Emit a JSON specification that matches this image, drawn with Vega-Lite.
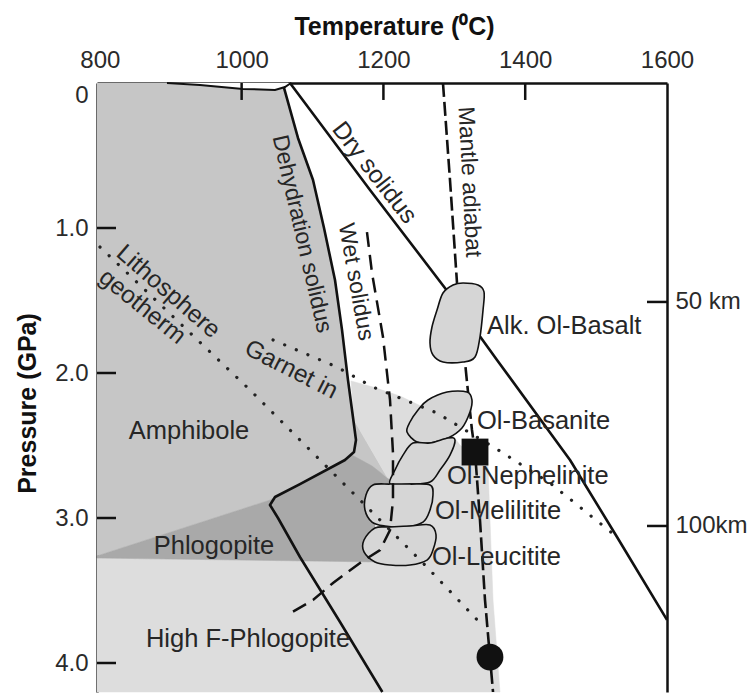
{
  "$schema": "https://vega.github.io/schema/vega-lite/v6.json",
  "width": 570,
  "height": 609,
  "autosize": {"type": "none"},
  "padding": {"left": 97, "top": 83, "right": 87, "bottom": 2},
  "background": "white",
  "config": {
    "view": {"stroke": null},
    "axis": {
      "grid": false,
      "domain": true,
      "domainColor": "#111",
      "domainWidth": 2.5,
      "ticks": false,
      "labelFont": "Liberation Sans",
      "labelFontSize": 24,
      "labelColor": "#2a2a2a",
      "labelOverlap": false,
      "labelBound": false,
      "labelFlush": false,
      "titleFont": "Liberation Sans",
      "titleFontSize": 25,
      "titleFontWeight": "bold",
      "titleColor": "#111",
      "zindex": 2
    }
  },
  "datasets": {
    "amph": [
      {"i": 1, "t": 796, "p": 0},
      {"i": 2, "t": 1065.4, "p": 0},
      {"i": 3, "t": 1059.8, "p": 0.034},
      {"i": 4, "t": 1079.5, "p": 0.379},
      {"i": 5, "t": 1100.7, "p": 0.669},
      {"i": 6, "t": 1116.2, "p": 1.0},
      {"i": 7, "t": 1131.7, "p": 1.359},
      {"i": 8, "t": 1141.6, "p": 1.703},
      {"i": 9, "t": 1150.0, "p": 2.048},
      {"i": 10, "t": 1155.7, "p": 2.255},
      {"i": 11, "t": 1158.5, "p": 2.324},
      {"i": 12, "t": 1205.1, "p": 2.717},
      {"i": 13, "t": 1155.7, "p": 2.566},
      {"i": 14, "t": 1040.0, "p": 2.876},
      {"i": 15, "t": 796, "p": 3.262}
    ],
    "light": [
      {"i": 1, "t": 1154.3, "p": 2.055},
      {"i": 2, "t": 1185.3, "p": 2.097},
      {"i": 3, "t": 1223.4, "p": 2.159},
      {"i": 4, "t": 1258.6, "p": 2.241},
      {"i": 5, "t": 1286.9, "p": 2.359},
      {"i": 6, "t": 1308.0, "p": 2.497},
      {"i": 7, "t": 1333.4, "p": 2.6},
      {"i": 8, "t": 1347.5, "p": 2.634},
      {"i": 9, "t": 1350.3, "p": 3.014},
      {"i": 10, "t": 1354.6, "p": 3.566},
      {"i": 11, "t": 1364.4, "p": 4.2},
      {"i": 12, "t": 796, "p": 4.2},
      {"i": 13, "t": 796, "p": 3.276},
      {"i": 14, "t": 1188.1, "p": 3.303},
      {"i": 15, "t": 1209.3, "p": 2.738},
      {"i": 16, "t": 1205.1, "p": 2.717},
      {"i": 17, "t": 1158.5, "p": 2.324}
    ],
    "phlog": [
      {"i": 1, "t": 796, "p": 3.262},
      {"i": 2, "t": 1040.0, "p": 2.876},
      {"i": 3, "t": 1155.7, "p": 2.566},
      {"i": 4, "t": 1183.9, "p": 2.641},
      {"i": 5, "t": 1209.3, "p": 2.738},
      {"i": 6, "t": 1202.2, "p": 2.807},
      {"i": 7, "t": 1188.1, "p": 3.014},
      {"i": 8, "t": 1188.1, "p": 3.303},
      {"i": 9, "t": 796, "p": 3.276}
    ],
    "lens": [
      {"i": 1, "t": 894.7, "p": 0},
      {"i": 2, "t": 941.3, "p": 0.014},
      {"i": 3, "t": 1001.9, "p": 0.041},
      {"i": 4, "t": 1047.1, "p": 0.048},
      {"i": 5, "t": 1061.2, "p": 0.028},
      {"i": 6, "t": 1069.6, "p": 0}
    ],
    "dehyd": [
      {"i": 1, "t": 1059.8, "p": 0.034},
      {"i": 2, "t": 1079.5, "p": 0.379},
      {"i": 3, "t": 1100.7, "p": 0.669},
      {"i": 4, "t": 1116.2, "p": 1.0},
      {"i": 5, "t": 1131.7, "p": 1.359},
      {"i": 6, "t": 1141.6, "p": 1.703},
      {"i": 7, "t": 1150.0, "p": 2.048},
      {"i": 8, "t": 1155.7, "p": 2.255},
      {"i": 9, "t": 1161.3, "p": 2.462},
      {"i": 10, "t": 1158.5, "p": 2.545},
      {"i": 11, "t": 1145.8, "p": 2.6},
      {"i": 12, "t": 1082.3, "p": 2.766},
      {"i": 13, "t": 1047.1, "p": 2.855},
      {"i": 14, "t": 1040.0, "p": 2.91},
      {"i": 15, "t": 1051.3, "p": 3.0},
      {"i": 16, "t": 1082.3, "p": 3.269},
      {"i": 17, "t": 1138.8, "p": 3.717},
      {"i": 18, "t": 1198.5, "p": 4.2}
    ],
    "dry": [
      {"i": 1, "t": 1068.2, "p": 0},
      {"i": 2, "t": 1181.1, "p": 0.738},
      {"i": 3, "t": 1291.1, "p": 1.441},
      {"i": 4, "t": 1360.2, "p": 1.91},
      {"i": 5, "t": 1463.2, "p": 2.6},
      {"i": 6, "t": 1529.5, "p": 3.131},
      {"i": 7, "t": 1600, "p": 3.703}
    ],
    "wet": [
      {"i": 1, "t": 1176.8, "p": 1.028},
      {"i": 2, "t": 1183.9, "p": 1.31},
      {"i": 3, "t": 1199.4, "p": 1.752},
      {"i": 4, "t": 1209.3, "p": 2.186},
      {"i": 5, "t": 1213.5, "p": 2.552},
      {"i": 6, "t": 1213.5, "p": 2.876},
      {"i": 7, "t": 1209.3, "p": 3.083},
      {"i": 8, "t": 1195.2, "p": 3.221},
      {"i": 9, "t": 1167.0, "p": 3.31},
      {"i": 10, "t": 1128.9, "p": 3.448},
      {"i": 11, "t": 1100.7, "p": 3.566},
      {"i": 12, "t": 1064.0, "p": 3.669}
    ],
    "adiabat": [
      {"i": 1, "t": 1284.0, "p": 0},
      {"i": 2, "t": 1293.9, "p": 0.669},
      {"i": 3, "t": 1303.8, "p": 1.379},
      {"i": 4, "t": 1310.8, "p": 1.703},
      {"i": 5, "t": 1315.1, "p": 1.924},
      {"i": 6, "t": 1319.3, "p": 2.131},
      {"i": 7, "t": 1324.9, "p": 2.393},
      {"i": 8, "t": 1329.2, "p": 2.545},
      {"i": 9, "t": 1336.2, "p": 3.014},
      {"i": 10, "t": 1343.3, "p": 3.566},
      {"i": 11, "t": 1350.3, "p": 3.959},
      {"i": 12, "t": 1354.6, "p": 4.2}
    ],
    "geo": [
      {"i": 1, "t": 800.2, "p": 1.131},
      {"i": 2, "t": 1011.8, "p": 2.117},
      {"i": 3, "t": 1162.7, "p": 2.855},
      {"i": 4, "t": 1255.8, "p": 3.31},
      {"i": 5, "t": 1343.3, "p": 3.759}
    ],
    "garnet": [
      {"i": 1, "t": 1044.3, "p": 1.772},
      {"i": 2, "t": 1134.5, "p": 1.959},
      {"i": 3, "t": 1185.3, "p": 2.097},
      {"i": 4, "t": 1275.6, "p": 2.276},
      {"i": 5, "t": 1357.4, "p": 2.517},
      {"i": 6, "t": 1435.0, "p": 2.759},
      {"i": 7, "t": 1529.5, "p": 3.131}
    ],
    "blobs": [
      {"g": "b1", "i": 1, "t": 1284.0, "p": 1.448},
      {"g": "b1", "i": 2, "t": 1298.2, "p": 1.393},
      {"g": "b1", "i": 3, "t": 1312.3, "p": 1.379},
      {"g": "b1", "i": 4, "t": 1333.4, "p": 1.393},
      {"g": "b1", "i": 5, "t": 1341.9, "p": 1.441},
      {"g": "b1", "i": 6, "t": 1340.5, "p": 1.566},
      {"g": "b1", "i": 7, "t": 1336.2, "p": 1.752},
      {"g": "b1", "i": 8, "t": 1329.2, "p": 1.89},
      {"g": "b1", "i": 9, "t": 1312.3, "p": 1.924},
      {"g": "b1", "i": 10, "t": 1284.0, "p": 1.924},
      {"g": "b1", "i": 11, "t": 1269.9, "p": 1.876},
      {"g": "b1", "i": 12, "t": 1265.7, "p": 1.793},
      {"g": "b1", "i": 13, "t": 1268.5, "p": 1.683},
      {"g": "b1", "i": 14, "t": 1275.6, "p": 1.566},
      {"g": "b2", "i": 1, "t": 1237.5, "p": 2.338},
      {"g": "b2", "i": 2, "t": 1248.8, "p": 2.255},
      {"g": "b2", "i": 3, "t": 1262.9, "p": 2.186},
      {"g": "b2", "i": 4, "t": 1289.7, "p": 2.131},
      {"g": "b2", "i": 5, "t": 1317.9, "p": 2.131},
      {"g": "b2", "i": 6, "t": 1324.9, "p": 2.186},
      {"g": "b2", "i": 7, "t": 1322.1, "p": 2.269},
      {"g": "b2", "i": 8, "t": 1310.8, "p": 2.379},
      {"g": "b2", "i": 9, "t": 1291.1, "p": 2.448},
      {"g": "b2", "i": 10, "t": 1265.7, "p": 2.483},
      {"g": "b2", "i": 11, "t": 1247.4, "p": 2.476},
      {"g": "b2", "i": 12, "t": 1233.3, "p": 2.407},
      {"g": "b3", "i": 1, "t": 1227.6, "p": 2.566},
      {"g": "b3", "i": 2, "t": 1241.7, "p": 2.483},
      {"g": "b3", "i": 3, "t": 1265.7, "p": 2.483},
      {"g": "b3", "i": 4, "t": 1291.1, "p": 2.448},
      {"g": "b3", "i": 5, "t": 1301.0, "p": 2.462},
      {"g": "b3", "i": 6, "t": 1293.9, "p": 2.566},
      {"g": "b3", "i": 7, "t": 1279.8, "p": 2.669},
      {"g": "b3", "i": 8, "t": 1265.7, "p": 2.752},
      {"g": "b3", "i": 9, "t": 1237.5, "p": 2.766},
      {"g": "b3", "i": 10, "t": 1209.3, "p": 2.766},
      {"g": "b3", "i": 11, "t": 1216.3, "p": 2.669},
      {"g": "b4", "i": 1, "t": 1185.3, "p": 2.772},
      {"g": "b4", "i": 2, "t": 1209.3, "p": 2.766},
      {"g": "b4", "i": 3, "t": 1237.5, "p": 2.766},
      {"g": "b4", "i": 4, "t": 1265.7, "p": 2.772},
      {"g": "b4", "i": 5, "t": 1269.9, "p": 2.841},
      {"g": "b4", "i": 6, "t": 1265.7, "p": 2.945},
      {"g": "b4", "i": 7, "t": 1255.8, "p": 3.028},
      {"g": "b4", "i": 8, "t": 1230.4, "p": 3.062},
      {"g": "b4", "i": 9, "t": 1202.2, "p": 3.055},
      {"g": "b4", "i": 10, "t": 1183.9, "p": 3.028},
      {"g": "b4", "i": 11, "t": 1174.0, "p": 2.945},
      {"g": "b4", "i": 12, "t": 1175.4, "p": 2.841},
      {"g": "b5", "i": 1, "t": 1188.1, "p": 3.069},
      {"g": "b5", "i": 2, "t": 1209.3, "p": 3.062},
      {"g": "b5", "i": 3, "t": 1237.5, "p": 3.055},
      {"g": "b5", "i": 4, "t": 1265.7, "p": 3.048},
      {"g": "b5", "i": 5, "t": 1274.2, "p": 3.117},
      {"g": "b5", "i": 6, "t": 1269.9, "p": 3.221},
      {"g": "b5", "i": 7, "t": 1261.5, "p": 3.29},
      {"g": "b5", "i": 8, "t": 1237.5, "p": 3.324},
      {"g": "b5", "i": 9, "t": 1209.3, "p": 3.324},
      {"g": "b5", "i": 10, "t": 1188.1, "p": 3.303},
      {"g": "b5", "i": 11, "t": 1172.6, "p": 3.234},
      {"g": "b5", "i": 12, "t": 1172.6, "p": 3.152}
    ],
    "symbols": [
      {"s": "square", "t": 1329.2, "p": 2.545},
      {"s": "circle", "t": 1350.3, "p": 3.959}
    ],
    "ticks": [
      {"t": 796, "t2": 822.8, "p": 1, "p2": 1},
      {"t": 796, "t2": 822.8, "p": 2, "p2": 2},
      {"t": 796, "t2": 822.8, "p": 3, "p2": 3},
      {"t": 796, "t2": 822.8, "p": 4, "p2": 4},
      {"t": 1000, "t2": 1000, "p": 0, "p2": 0.117},
      {"t": 1200, "t2": 1200, "p": 0, "p2": 0.117},
      {"t": 1400, "t2": 1400, "p": 0, "p2": 0.117},
      {"t": 1571.8, "t2": 1600, "p": 1.51, "p2": 1.51},
      {"t": 1571.8, "t2": 1600, "p": 3.055, "p2": 3.055}
    ],
    "steepLabels": [
      {"label": "Dehydration solidus", "t": 1085.2, "p": 1.041, "a": 77},
      {"label": "Wet solidus", "t": 1161.3, "p": 1.372, "a": 80},
      {"label": "Mantle adiabat", "t": 1321.4, "p": 0.683, "a": 87}
    ],
    "diagLabels": [
      {"label": "Dry solidus", "t": 1186.7, "p": 0.621, "a": 52},
      {"label": "Lithosphere", "t": 896.1, "p": 1.441, "a": 41},
      {"label": "geotherm", "t": 859.5, "p": 1.545, "a": 39},
      {"label": "Garnet in", "t": 1069.6, "p": 1.979, "a": 27}
    ],
    "fieldLabels": [
      {"label": "Amphibole", "t": 925.8, "p": 2.4},
      {"label": "Phlogopite", "t": 961.0, "p": 3.193},
      {"label": "High F-Phlogopite", "t": 1009.0, "p": 3.834}
    ],
    "olabels": [
      {"label": "Alk. Ol-Basalt", "t": 1346.1, "p": 1.676},
      {"label": "Ol-Basanite", "t": 1332.0, "p": 2.334},
      {"label": "Ol-Nephelinite", "t": 1289.7, "p": 2.707},
      {"label": "Ol-Melilitite", "t": 1272.8, "p": 2.955},
      {"label": "Ol-Leucitite", "t": 1268.5, "p": 3.266}
    ]
  },
  "encoding": {
    "x": {
      "field": "t",
      "type": "quantitative",
      "scale": {"domain": [796, 1600], "nice": false, "zero": false},
      "axis": {
        "orient": "top",
        "values": [800, 1000, 1200, 1400, 1600],
        "format": "d",
        "labelPadding": 11,
        "title": "Temperature (⁰C)",
        "titleX": 297,
        "titleY": -49,
        "titleBaseline": "alphabetic",
        "titleAlign": "center",
        "titleAngle": 0
      }
    },
    "y": {
      "field": "p",
      "type": "quantitative",
      "scale": {"domain": [0, 4.2], "reverse": true, "nice": false, "zero": false},
      "axis": null
    }
  },
  "resolve": {"axis": {"y": "independent"}},
  "layer": [
    {
      "data": {"name": "amph"},
      "mark": {"type": "line", "fill": "#c6c6c6", "stroke": "#c6c6c6", "strokeWidth": 0.5, "interpolate": "linear-closed"},
      "encoding": {
        "order": {"field": "i", "type": "quantitative"},
        "y": {
          "field": "p",
          "type": "quantitative",
          "scale": {"domain": [0, 4.2], "reverse": true, "nice": false, "zero": false},
          "axis": {
            "orient": "left",
            "values": [0, 1, 2, 3, 4],
            "labelExpr": "datum.value == 0 ? '0' : format(datum.value, '.1f')",
            "labelPadding": 9,
            "labelFlush": true,
            "title": "Pressure (GPa)",
            "titleX": -70,
            "titleY": 320,
            "titleAngle": 270,
            "titleBaseline": "middle",
            "titleAlign": "center"
          }
        }
      }
    },
    {
      "data": {"name": "light"},
      "mark": {"type": "line", "fill": "#dddddd", "stroke": "#dddddd", "strokeWidth": 0.5, "interpolate": "linear-closed"},
      "encoding": {"order": {"field": "i", "type": "quantitative"}}
    },
    {
      "data": {"name": "phlog"},
      "mark": {"type": "line", "fill": "#a9a9a9", "stroke": "#a9a9a9", "strokeWidth": 0.5, "interpolate": "linear-closed"},
      "encoding": {"order": {"field": "i", "type": "quantitative"}}
    },
    {
      "data": {"name": "lens"},
      "mark": {"type": "line", "fill": "white", "stroke": "#111", "strokeWidth": 2, "interpolate": "linear"},
      "encoding": {"order": {"field": "i", "type": "quantitative"}}
    },
    {
      "data": {"name": "dehyd"},
      "mark": {"type": "line", "stroke": "#111", "strokeWidth": 2.6, "strokeJoin": "round"},
      "encoding": {"order": {"field": "i", "type": "quantitative"}}
    },
    {
      "data": {"name": "dry"},
      "mark": {"type": "line", "stroke": "#111", "strokeWidth": 2.6, "strokeJoin": "round"},
      "encoding": {"order": {"field": "i", "type": "quantitative"}}
    },
    {
      "data": {"name": "adiabat"},
      "mark": {"type": "line", "stroke": "#111", "strokeWidth": 2.6, "strokeDash": [14, 5]},
      "encoding": {"order": {"field": "i", "type": "quantitative"}}
    },
    {
      "data": {"name": "blobs"},
      "mark": {"type": "line", "fill": "#d6d6d6", "stroke": "#111", "strokeWidth": 1.6, "interpolate": "cardinal-closed"},
      "encoding": {
        "order": {"field": "i", "type": "quantitative"},
        "detail": {"field": "g", "type": "nominal"},
        "y": {
          "field": "p",
          "type": "quantitative",
          "scale": {"domain": [0, 4.2], "reverse": true, "nice": false, "zero": false},
          "axis": {
            "orient": "right",
            "values": [1.51, 3.055],
            "labelExpr": "datum.value < 2 ? '50 km' : '100km'",
            "labelPadding": 8,
            "title": null
          }
        }
      }
    },
    {
      "data": {"name": "wet"},
      "mark": {"type": "line", "stroke": "#111", "strokeWidth": 2.5, "strokeDash": [15, 8]},
      "encoding": {"order": {"field": "i", "type": "quantitative"}}
    },
    {
      "data": {"name": "geo"},
      "mark": {"type": "line", "stroke": "#222", "strokeWidth": 3.2, "strokeCap": "round", "strokeDash": [0.1, 12.5]},
      "encoding": {"order": {"field": "i", "type": "quantitative"}}
    },
    {
      "data": {"name": "garnet"},
      "mark": {"type": "line", "stroke": "#222", "strokeWidth": 3.2, "strokeCap": "round", "strokeDash": [0.1, 12.5]},
      "encoding": {"order": {"field": "i", "type": "quantitative"}}
    },
    {
      "data": {"name": "symbols"},
      "mark": {"type": "point", "filled": true, "opacity": 1, "color": "#111", "size": 720},
      "encoding": {
        "shape": {"field": "s", "type": "nominal", "scale": {"domain": ["square", "circle"], "range": ["square", "circle"]}, "legend": null}
      }
    },
    {
      "data": {"name": "ticks"},
      "mark": {"type": "rule", "stroke": "#111", "strokeWidth": 2.5},
      "encoding": {
        "x2": {"field": "t2"},
        "y2": {"field": "p2"}
      }
    },
    {
      "data": {"name": "steepLabels"},
      "mark": {"type": "text", "font": "Liberation Sans", "fontSize": 23, "fill": "#262626", "align": "center", "baseline": "middle"},
      "encoding": {
        "text": {"field": "label", "type": "nominal"},
        "angle": {"field": "a", "type": "quantitative", "scale": null}
      }
    },
    {
      "data": {"name": "diagLabels"},
      "mark": {"type": "text", "font": "Liberation Sans", "fontSize": 24.5, "fill": "#262626", "align": "center", "baseline": "middle"},
      "encoding": {
        "text": {"field": "label", "type": "nominal"},
        "angle": {"field": "a", "type": "quantitative", "scale": null}
      }
    },
    {
      "data": {"name": "fieldLabels"},
      "mark": {"type": "text", "font": "Liberation Sans", "fontSize": 25.5, "fill": "#262626", "align": "center", "baseline": "middle"},
      "encoding": {
        "text": {"field": "label", "type": "nominal"}
      }
    },
    {
      "data": {"name": "olabels"},
      "mark": {"type": "text", "font": "Liberation Sans", "fontSize": 25.5, "fill": "#262626", "align": "left", "baseline": "middle"},
      "encoding": {
        "text": {"field": "label", "type": "nominal"}
      }
    }
  ]
}
